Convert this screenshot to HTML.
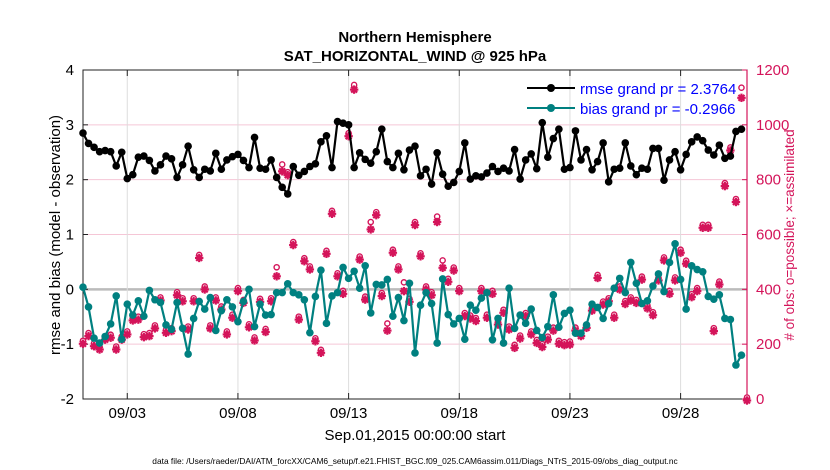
<!DOCTYPE html>
<html><head><meta charset="utf-8"><style>
html,body{margin:0;padding:0;background:#fff;}
svg{display:block;font-family:"Liberation Sans",Arial,sans-serif;}
</style></head><body>
<svg id="chart" width="830" height="470" viewBox="0 0 830 470" xmlns="http://www.w3.org/2000/svg">
<rect width="830" height="470" fill="#fff"/>
<text x="415" y="42" text-anchor="middle" font-size="15" font-weight="bold">Northern Hemisphere</text>
<text x="415" y="61" text-anchor="middle" font-size="15" font-weight="bold">SAT_HORIZONTAL_WIND @ 925 hPa</text>
<g id="grid"></g>
<g id="axes"></g>
<g id="marks"></g>
<text transform="translate(60,235) rotate(-90)" text-anchor="middle" font-size="15">rmse and bias (model - observation)</text>
<text transform="translate(794,235) rotate(-90)" text-anchor="middle" font-size="13.5" fill="#d4145a"># of obs: o=possible; ×=assimilated</text>
<text x="415" y="440" text-anchor="middle" font-size="15">Sep.01,2015 00:00:00 start</text>
<text x="415" y="464" text-anchor="middle" font-size="8.4">data file: /Users/raeder/DAI/ATM_forcXX/CAM6_setup/f.e21.FHIST_BGC.f09_025.CAM6assim.011/Diags_NTrS_2015-09/obs_diag_output.nc</text>
<g id="grp"></g>
</svg>
<script>
const rmse=[2.85,2.66,2.59,2.51,2.53,2.51,2.25,2.50,2.02,2.09,2.41,2.43,2.35,2.16,2.27,2.43,2.38,2.04,2.27,2.61,2.18,2.04,2.19,2.16,2.48,2.19,2.36,2.42,2.46,2.35,2.22,2.77,2.21,2.19,2.36,2.04,1.86,1.74,2.24,2.08,2.15,2.24,2.29,2.69,2.80,2.22,3.06,3.03,3.00,2.22,2.49,2.37,2.30,2.51,2.92,2.33,2.22,2.48,2.18,2.54,2.61,2.07,2.19,1.92,2.49,2.10,1.88,1.95,2.15,2.67,2.01,2.07,2.05,2.12,2.24,2.15,2.21,2.16,2.55,2.01,2.36,2.47,2.20,3.04,2.41,2.75,2.92,2.19,2.22,2.89,2.36,2.55,2.18,2.33,2.67,1.96,2.19,2.21,2.67,2.25,2.09,2.21,2.19,2.57,2.57,1.99,2.36,2.51,2.18,2.46,2.69,2.78,2.71,2.54,2.45,2.63,2.39,2.43,2.88,2.92,null];
const bias=[0.04,-0.32,-0.89,-0.98,-0.86,-0.63,-0.12,-0.91,-0.27,-0.47,-0.21,-0.49,-0.02,-0.19,-0.24,-0.65,-0.73,-0.24,-0.71,-1.18,-0.53,-0.22,-0.36,-0.15,-0.75,-0.39,-0.19,-0.32,-0.59,-0.22,0.0,-0.68,-0.27,-0.47,-0.46,-0.06,-0.06,0.1,-0.06,-0.1,-0.19,-0.79,-0.13,0.35,-0.62,-0.12,-0.06,0.4,0.2,0.33,0.02,0.43,-0.43,0.09,0.08,0.18,-0.49,-0.15,-0.57,0.11,-1.16,-0.29,-0.06,-0.26,-0.98,0.19,-0.46,-0.63,-0.53,-0.91,-0.29,-0.38,-0.16,-0.06,-0.92,-0.53,-0.98,0.02,-0.71,-0.47,-0.62,-0.36,-0.75,-0.88,-0.68,-0.1,-0.69,-0.44,-0.38,-0.8,-0.8,-0.65,-0.27,-0.33,-0.53,-0.26,0.02,0.2,-0.06,0.49,0.11,-0.26,-0.21,0.06,0.28,-0.04,0.49,0.83,0.18,-0.36,0.43,0.36,0.32,-0.13,-0.18,-0.1,-0.53,-0.55,-1.38,-1.2,null];
const nAssim=[207,235,198,186,222,229,186,222,241,292,295,231,235,263,365,247,253,384,362,259,362,520,405,263,365,332,241,302,399,356,267,219,360,250,362,453,836,822,567,295,508,478,216,174,535,681,453,389,964,1134,514,368,624,676,381,255,539,478,399,360,640,526,405,384,651,484,433,474,399,308,299,290,399,302,389,277,320,259,192,226,308,241,210,195,222,255,207,202,204,255,235,265,328,447,350,362,302,405,352,365,356,441,336,311,438,511,389,438,539,499,377,399,630,630,253,423,782,912,724,1104,0];
const nPoss=[207,235,198,186,222,229,186,222,241,292,295,231,235,263,365,247,253,384,362,259,362,520,405,263,365,332,241,302,399,356,267,219,360,250,362,475,850,822,567,295,508,478,216,174,535,681,453,389,964,1140,514,368,640,676,381,270,539,478,420,360,640,526,405,384,660,500,433,474,399,308,299,290,399,302,389,277,320,259,192,226,308,241,210,195,222,255,207,202,204,255,235,265,328,447,350,362,302,405,352,365,356,441,336,311,438,511,389,438,539,499,377,399,630,630,253,423,782,912,724,1130,0];
const leftTicks=[-2,-1,0,1,2,3,4];
const rightTicks=[0,200,400,600,800,1000,1200];
const xTickDays=[2,7,12,17,22,27];
const xTickLabels=["09/03","09/08","09/13","09/18","09/23","09/28"];
const stepDays=0.25;

const L=83,R=747,T=70,B=399;
const xS=d=>L+d*(R-L)/30;
const yL=v=>B-(v+2)*(B-T)/6;
const yR=v=>B-v*(B-T)/1200;
const NS="http://www.w3.org/2000/svg";
function mk(parent,tag,attrs){const e=document.createElementNS(NS,tag);for(const k in attrs)e.setAttribute(k,attrs[k]);parent.appendChild(e);return e;}
const svg=document.getElementById('chart');
const grid=mk(svg,'g',{});


const axes=mk(svg,'g',{});


const marks=mk(svg,'g',{});


const MAG="#d4145a";
leftTicks.forEach(v=>{if(v===-2||v===4)return;const g=mk(grid,'line',{x1:L,x2:R,y1:yL(v),y2:yL(v),stroke:v===0?'#bbbbbb':'#f5c6d6','stroke-width':v===0?2.5:1});

});
xTickDays.forEach(d=>{const g=mk(grid,'line',{x1:xS(d),x2:xS(d),y1:T,y2:B,stroke:'#dddddd','stroke-width':1});

});
const box=mk(axes,'rect',{x:L,y:T,width:R-L,height:B-T,fill:'none',stroke:'#222','stroke-width':1});


const ra=mk(axes,'line',{x1:R,x2:R,y1:T,y2:B,stroke:MAG,'stroke-width':1.2});


leftTicks.forEach(v=>{const t=mk(axes,'text',{x:L-9,y:yL(v)+5,'text-anchor':'end','font-size':15});t.textContent=v;


mk(axes,'line',{x1:L,x2:L+5,y1:yL(v),y2:yL(v),stroke:'#222'});});
rightTicks.forEach(v=>{const t=mk(axes,'text',{x:R+9,y:yR(v)+5,'font-size':15,fill:MAG});t.textContent=v;


mk(axes,'line',{x1:R-5,x2:R,y1:yR(v),y2:yR(v),stroke:MAG});});
xTickDays.forEach((d,i)=>{mk(axes,'line',{x1:xS(d),x2:xS(d),y1:B-6,y2:B,stroke:'#222'});mk(axes,'line',{x1:xS(d),x2:xS(d),y1:T,y2:T+6,stroke:'#222'});
const t=mk(axes,'text',{x:xS(d),y:418,'text-anchor':'middle','font-size':15});t.textContent=xTickLabels[i];

});
function star(cx,cy,g){const r=4.2;for(let a=0;a<4;a++){const an=a*Math.PI/4;mk(g,'line',{x1:cx-r*Math.cos(an),y1:cy-r*Math.sin(an),x2:cx+r*Math.cos(an),y2:cy+r*Math.sin(an),stroke:MAG,'stroke-width':2.2});}mk(g,'circle',{cx:cx,cy:cy,r:2.5,fill:MAG});}
nPoss.forEach((v,i)=>{const c=mk(marks,'circle',{cx:xS(i*stepDays),cy:yR(v)-1.5,r:2.6,fill:'#fff',stroke:MAG,'stroke-width':1.4});

});
nAssim.forEach((v,i)=>{const g=mk(marks,'g',{});


star(xS(i*stepDays),yR(v)+1.5,g);});
function series(arr,color,name){let d='';arr.forEach((v,i)=>{if(v===null)return;d+=(d?'L':'M')+xS(i*stepDays).toFixed(1)+','+yL(v).toFixed(1);});
const p=mk(marks,'path',{d:d,fill:'none',stroke:color,'stroke-width':2.2});


arr.forEach((v,i)=>{if(v===null)return;const c=mk(marks,'circle',{cx:xS(i*stepDays),cy:yL(v),r:3.8,fill:color});

});}
series(bias,'#008080','bias');
series(rmse,'#000000','rmse');
// legend on top
const lg=mk(svg,'g',{});


mk(lg,'line',{x1:527,y1:88,x2:575,y2:88,stroke:'#000','stroke-width':2});
mk(lg,'circle',{cx:551,cy:88,r:4,fill:'#000'});
const t1=mk(lg,'text',{x:580,y:94,'font-size':15,fill:'#0000ff'});t1.textContent='rmse grand pr = 2.3764';


mk(lg,'line',{x1:527,y1:108,x2:575,y2:108,stroke:'#008080','stroke-width':2});
mk(lg,'circle',{cx:551,cy:108,r:4,fill:'#008080'});
const t2=mk(lg,'text',{x:580,y:114,'font-size':15,fill:'#0000ff'});t2.textContent='bias grand pr = -0.2966';


</script>
</body></html>
